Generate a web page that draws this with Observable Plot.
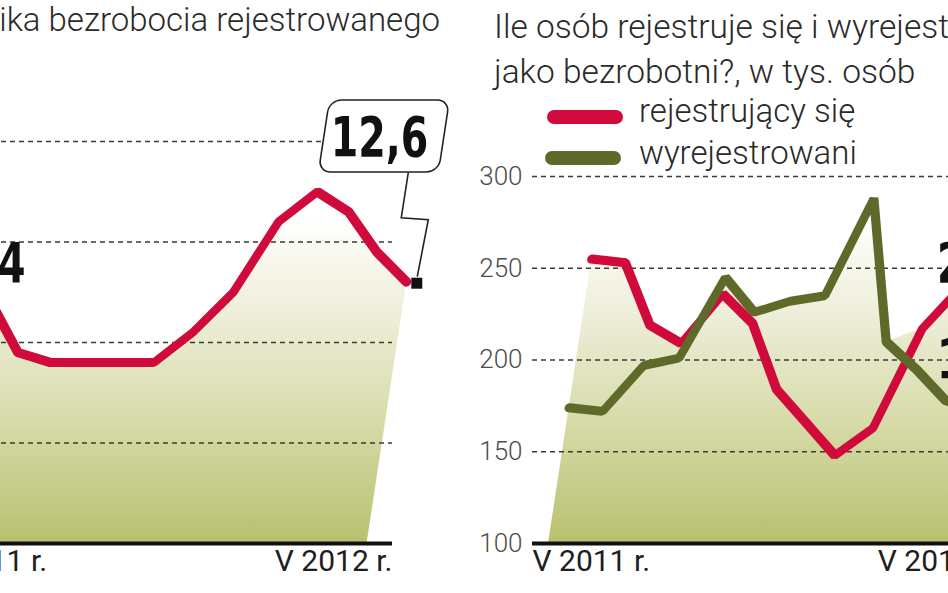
<!DOCTYPE html>
<html><head><meta charset="utf-8">
<script src="https://cdn.jsdelivr.net/npm/d3@7"></script>
<script src="https://cdn.jsdelivr.net/npm/@observablehq/plot@0.6"></script>
<style>
html,body{margin:0;padding:0;background:#fff;}
body{width:948px;height:593px;overflow:hidden;position:relative;font-family:Roboto,"Open Sans",sans-serif;}
.t{position:absolute;white-space:nowrap;font-weight:300;color:#2a2a2a;}
.sw{position:absolute;width:76px;height:14px;border-radius:7px;}
#left,#right{position:absolute;top:0;width:700px;}
svg{max-width:none !important;}
g[font-family*="DejaVu"] text{font-stretch:condensed;}
</style></head><body>
<div id="left" style="left:-100px"></div>
<div id="right" style="left:470px"></div>
<div class="t" style="right:508px;top:-2px;font-size:33px;line-height:44px;">Dynamika bezrobocia rejestrowanego</div>
<div class="t" style="left:494px;top:4px;font-size:33.5px;line-height:45px;">Ile osób rejestruje się i wyrejestrowuje<br>jako bezrobotni?, w tys. osób</div>
<div class="sw" style="left:547px;top:110px;background:#d10a3c"></div>
<div class="t" style="left:639px;top:89px;font-size:33px;line-height:44px;">rejestrujący się</div>
<div class="sw" style="left:545px;top:151px;background:#5f6a2a"></div>
<div class="t" style="left:639px;top:131px;font-size:33px;line-height:44px;">wyrejestrowani</div>
<script>
// ---- data ----
const months = ["V 2011","VI","VII","VIII","IX","X","XI","XII","I 2012","II","III","IV","V 2012"];
const rate = [12.4, 11.9, 11.8, 11.8, 11.8, 11.8, 12.1, 12.5, 13.2, 13.5, 13.3, 12.9, 12.6];
const registered = [255, 253, 219, 209, 236, 220, 184, 166, 148, 163, 217, 241, 236];
const deregistered = [174, 172, 197, 201, 245, 226, 232, 235, 288, 210, 195, 178, 172];
const rateTicks = [11, 12, 13, 14];
const countTicks = [150, 200, 250, 300];
const countAxis = [100, 150, 200, 250, 300];
const axisLabels = ["V 2011 r.", "V 2012 r."];

// ---- styling ----
const RED = "#d10a3c", GREEN = "#5f6a2a";
const K = 0.152, BASE = 543;
const skew = `matrix(1,0,${-K},1,${(K*BASE).toFixed(3)},0)`;
const fmt = v => v.toFixed(1).replace(".", ",");
const BIG = {fontSize: 55, fontWeight: "bold", fill: "#111", fontFamily: "'DejaVu Sans',Roboto,sans-serif"};
const grid = {stroke: "#3a3a3a", strokeWidth: 1.6, strokeDasharray: "5,4"};
const axisText = {fontSize: 30, fill: "#1e1e1e", fontFamily: "Roboto, sans-serif"};
const plotStyle = {fontFamily: "Roboto, sans-serif", overflow: "visible", background: "transparent", maxWidth: "none"};

const L = months.map((m, i) => ({i, m, v: rate[i]}));
const R = months.map((m, i) => ({i, m, reg: registered[i], dereg: deregistered[i], top: Math.max(registered[i], deregistered[i])}));

const yL = d3.scaleLinear([10, 14], [543, 141]);
const offL = v => K * (BASE - yL(v));
const first = L[0], last = L[L.length - 1];

const left = Plot.plot({
  width: 560, height: 593,
  marginLeft: 29, marginRight: 68, marginTop: 141, marginBottom: 50,
  x: {domain: [-0.73, 12.74], axis: null},
  y: {domain: [10, 14], axis: null},
  style: plotStyle,
  marks: [
    Plot.areaY(L, {x: "i", y1: () => 10, y2: "v", fill: "url(#gradL)"}),
    Plot.ruleY(rateTicks, grid),
    Plot.line(L, {x: "i", y: "v", stroke: RED, strokeWidth: 9, strokeLinejoin: "miter"}),
    Plot.ruleY([10], {stroke: "#111", strokeWidth: 4}),
    Plot.axisY({ticks: rateTicks, tickSize: 0, tickPadding: 10, fontSize: 26, fontWeight: 300, color: "#4d4d4d", label: null}),
    Plot.text([axisLabels[0]], {frameAnchor: "bottom-left", text: d => d, textAnchor: "start", lineAnchor: "top", dy: 6, ...axisText}),
    Plot.text([axisLabels[1]], {frameAnchor: "bottom-right", text: d => d, textAnchor: "end", lineAnchor: "top", dy: 6, ...axisText}),
    Plot.rect([last], {x1: "i", x2: "i", y1: "v", y2: "v", insetLeft: -104.5, insetRight: -15.5, insetTop: -181.7, insetBottom: 109.7, rx: 12, fill: "white", stroke: "#222", strokeWidth: 1.6}),
    Plot.text([last], {x: "i", y: "v", text: d => fmt(d.v), dx: 12.5, dy: -144, lineAnchor: "middle", ...BIG}),
    Plot.dot([last], {x: "i", y: "v", symbol: "square", r: 6.2, fill: "#111", dx: offL(last.v) + 10, dy: 1}),
    Plot.text([first], {x: "i", y: "v", text: d => fmt(d.v), textAnchor: "end", lineAnchor: "middle", dx: 70.9, dy: -38, ...BIG})
  ]
});

const right = Plot.plot({
  width: 600, height: 593,
  marginLeft: 62, marginRight: 75, marginTop: 176, marginBottom: 50,
  x: {domain: [-0.47, 13.1], axis: null},
  y: {domain: [100, 300], axis: null},
  style: plotStyle,
  marks: [
    Plot.areaY(R, {x: "i", y1: () => 100, y2: "top", fill: "url(#gradR)"}),
    Plot.ruleY(countTicks, grid),
    Plot.line(R, {x: "i", y: "reg", stroke: RED, strokeWidth: 9, strokeLinejoin: "miter"}),
    Plot.line(R, {x: "i", y: "dereg", stroke: GREEN, strokeWidth: 9, strokeLinejoin: "miter"}),
    Plot.ruleY([100], {stroke: "#111", strokeWidth: 4}),
    Plot.axisY({ticks: countAxis, tickSize: 0, tickPadding: 10, fontSize: 26, fontWeight: 300, color: "#4d4d4d", label: null}),
    Plot.text([axisLabels[0]], {frameAnchor: "bottom-left", text: d => d, textAnchor: "start", lineAnchor: "top", dy: 6, ...axisText}),
    Plot.text([axisLabels[1]], {frameAnchor: "bottom-right", text: d => d, textAnchor: "end", lineAnchor: "top", dy: 6, ...axisText}),
    Plot.text([R[R.length - 1]], {x: "i", y: "reg", text: d => String(d.reg), textAnchor: "start", lineAnchor: "middle", dx: -21, dy: -30, ...BIG}),
    Plot.text([R[R.length - 1]], {x: "i", y: "dereg", text: d => String(d.dereg), textAnchor: "start", lineAnchor: "middle", dx: -21, dy: -51, ...BIG})
  ]
});

function addGrad(svg, id) {
  const ns = "http://www.w3.org/2000/svg";
  const defs = document.createElementNS(ns, "defs");
  const g = document.createElementNS(ns, "linearGradient");
  g.setAttribute("id", id);
  g.setAttribute("gradientUnits", "userSpaceOnUse");
  g.setAttribute("x1", 0); g.setAttribute("x2", 0);
  g.setAttribute("y1", 215); g.setAttribute("y2", 543);
  [[0, "#ffffff"], [0.25, "#f1f1e0"], [0.6, "#d9ddad"], [1, "#b8c06f"]].forEach(([o, c]) => {
    const s = document.createElementNS(ns, "stop");
    s.setAttribute("offset", o); s.setAttribute("stop-color", c);
    g.appendChild(s);
  });
  defs.appendChild(g);
  svg.insertBefore(defs, svg.firstChild);
}
function applySkew(svg) {
  svg.querySelectorAll('g[aria-label="line"], g[aria-label="area"], g[aria-label="rect"]').forEach(el => {
    el.setAttribute("transform", (skew + " " + (el.getAttribute("transform") || "")).trim());
  });
}
addGrad(left, "gradL");
addGrad(right, "gradR");
applySkew(left);
applySkew(right);

// callout pointer from the box to the last-point marker
const sx = left.scale("x"), sy = left.scale("y");
const px = sx.apply(last.i) + offL(last.v) + 10, py = sy.apply(last.v) + 1;
d3.select(left).append("path")
  .attr("d", `M${px - 8},${py - 110}L${px - 15},${py - 65}L${px + 12},${py - 63}L${px + 1},${py - 6}`)
  .attr("fill", "none").attr("stroke", "#222").attr("stroke-width", 1.6);

document.getElementById("left").appendChild(left);
document.getElementById("right").appendChild(right);

// condense the bold value labels horizontally
[left, right].forEach(svg => {
  svg.querySelectorAll('g[font-family*="DejaVu"] text').forEach(t => {
    const w = t.getComputedTextLength();
    t.setAttribute("textLength", (w * 0.8).toFixed(1));
    t.setAttribute("lengthAdjust", "spacingAndGlyphs");
  });
});
</script>
</body></html>
